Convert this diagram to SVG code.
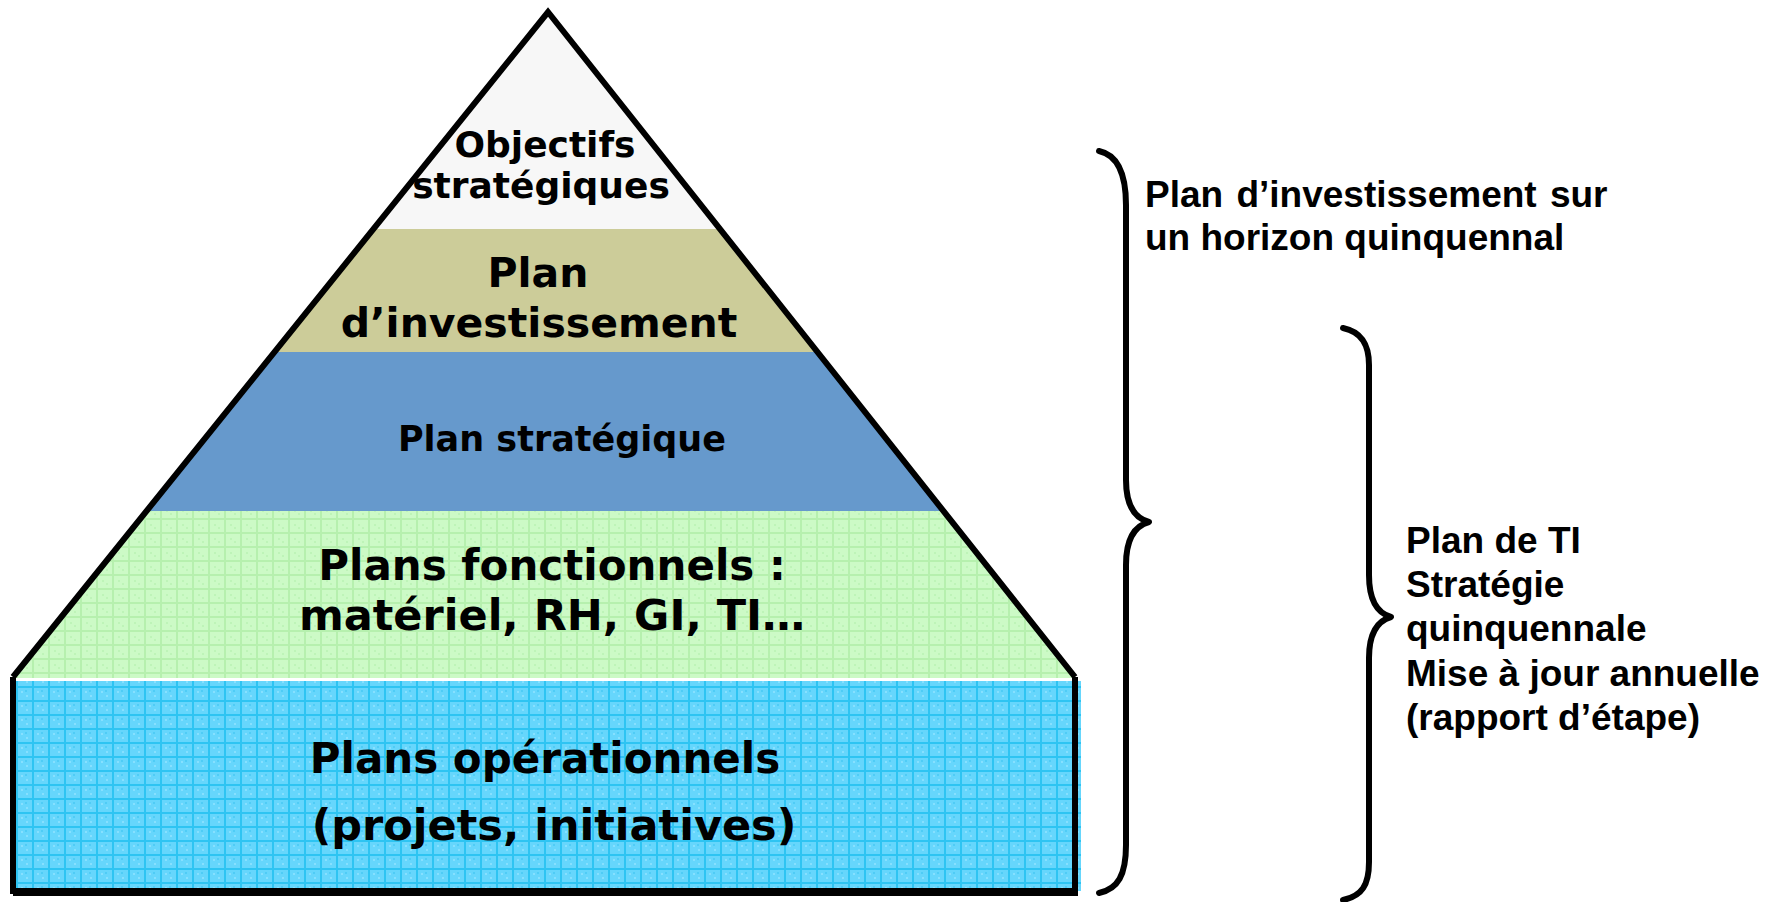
<svg xmlns="http://www.w3.org/2000/svg" width="1780" height="902" viewBox="0 0 1780 902">
  <defs>
    <pattern id="gridGreen" width="16" height="14" patternUnits="userSpaceOnUse">
      <rect width="16" height="14" fill="#CCFAC6"/>
      <rect x="0" y="0" width="16" height="2" fill="#B6F0AE"/>
      <rect x="0" y="0" width="2" height="14" fill="#B6F0AE"/>
      <rect x="6" y="6" width="2" height="2" fill="#BEF4B8"/>
      <rect x="10" y="9" width="2" height="2" fill="#BEF4B8"/>
    </pattern>
    <pattern id="gridCyan" width="16" height="14" patternUnits="userSpaceOnUse">
      <rect width="16" height="14" fill="#66D6FC"/>
      <rect x="0" y="0" width="16" height="2" fill="#2EC4F2"/>
      <rect x="0" y="0" width="2" height="14" fill="#2EC4F2"/>
      <rect x="5" y="5" width="2" height="2" fill="#86E0FF"/>
      <rect x="10" y="9" width="2" height="2" fill="#86E0FF"/>
      <rect x="9" y="4" width="2" height="2" fill="#4FCCF6"/>
    </pattern>
  </defs>
  <style>
    .lvl { font-family: "DejaVu Sans", Verdana, sans-serif; font-weight: bold; fill: #000; text-anchor: middle; }
    .side { font-family: "Liberation Sans", Arial, sans-serif; font-weight: bold; font-size: 37px; fill: #000; }
    .outline { fill: none; stroke: #000; stroke-width: 6; stroke-linejoin: miter; }
    .brace { fill: none; stroke: #000; stroke-width: 6; stroke-linecap: round; stroke-linejoin: round; }
  </style>
  <rect width="1780" height="902" fill="#FFFFFF"/>

  <g id="level-objectifs">
    <polygon points="548,12 373.4,229 720,229" fill="#F7F7F7"/>
    <text class="lvl" font-size="36" x="545" y="157">Objectifs</text>
    <text class="lvl" font-size="36" x="541" y="198">stratégiques</text>
  </g>

  <g id="level-investissement">
    <polygon points="373.4,229 720,229 817.5,352 274.5,352" fill="#CCCC99"/>
    <text class="lvl" font-size="41" x="538" y="287">Plan</text>
    <text class="lvl" font-size="41" x="539" y="337">d’investissement</text>
  </g>

  <g id="level-strategique">
    <polygon points="274.5,352 817.5,352 943.5,511 146.5,511" fill="#6699CC"/>
    <text class="lvl" font-size="35" x="562" y="451">Plan stratégique</text>
  </g>

  <g id="level-fonctionnels">
    <polygon points="146.5,511 943.5,511 1076,678 12,678" fill="url(#gridGreen)"/>
    <text class="lvl" font-size="42" x="552" y="580">Plans fonctionnels :</text>
    <text class="lvl" font-size="43" x="552" y="630">matériel, RH, GI, TI…</text>
  </g>

  <g id="level-operationnels">
    <rect x="13" y="681" width="1068" height="210" fill="url(#gridCyan)"/>
    <text class="lvl" font-size="42" x="545" y="773">Plans opérationnels</text>
    <text class="lvl" font-size="43" x="554" y="840">(projets, initiatives)</text>
  </g>

  <g id="pyramid-outline">
    <path class="outline" d="M13,677 L548,12 L1075,677"/>
    <path class="outline" d="M13,677 L13,891 L1075,891 L1075,677"/>
    <line x1="13" y1="892" x2="1078" y2="892" stroke="#000" stroke-width="8"/>
  </g>

  <g id="connectors">
    <path class="brace" d="M1099,151 C1118,155 1126,175 1126,205 L1126,480 C1126,505 1134,518 1149,522 C1134,526 1126,540 1126,565 L1126,845 C1126,875 1118,889 1099,893"/>
    <path class="brace" d="M1343,328 C1362,332 1369,345 1369,365 L1369,575 C1369,600 1377,613 1391,617 C1377,621 1369,634 1369,658 L1369,862 C1369,885 1362,896 1343,900"/>
  </g>

  <g id="label-investissement">
    <text class="side" x="1145" y="207" word-spacing="3">Plan d’investissement sur</text>
    <text class="side" x="1145" y="250">un horizon quinquennal</text>
  </g>

  <g id="label-ti">
    <text class="side" x="1406" y="553">Plan de TI</text>
    <text class="side" x="1406" y="597">Stratégie</text>
    <text class="side" x="1406" y="641">quinquennale</text>
    <text class="side" x="1406" y="686">Mise à jour annuelle</text>
    <text class="side" x="1406" y="730">(rapport d’étape)</text>
  </g>
</svg>
